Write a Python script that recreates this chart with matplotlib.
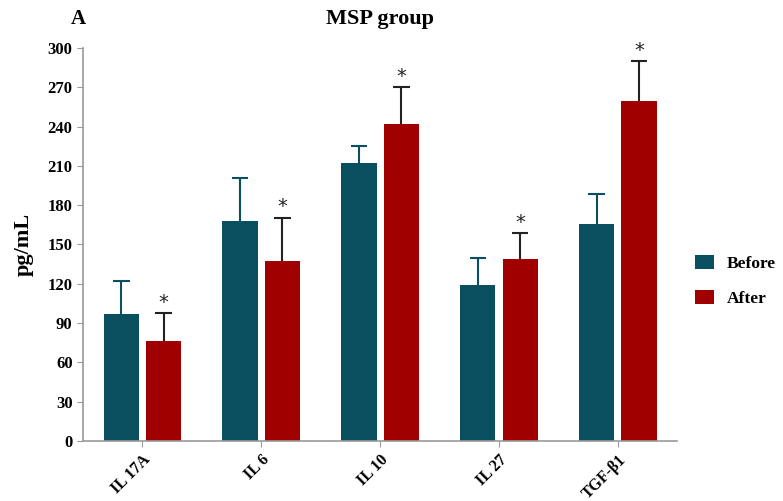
import numpy as np
import matplotlib
matplotlib.use("Agg")
import matplotlib.pyplot as plt

plt.rcParams['font.family'] = ['Liberation Serif', 'DejaVu Serif']

categories = ["IL 17A", "IL 6", "IL 10", "IL 27", "TGF-\u03b21"]
before = [96.6, 168, 212.6, 119.4, 165.6]
before_err = [25.4, 32.9, 12.9, 20.4, 22.8]
after = [76, 137.2, 242.2, 139.2, 259.4]
after_err = [21.5, 33.2, 28.2, 19.6, 30.5]
yticks = [0, 30, 60, 90, 120, 150, 180, 210, 240, 270, 300]

c_before = "#0a4f5f"
c_after = "#a00000"

fig = plt.figure(figsize=(7.83, 5.01), dpi=100)
ax = fig.add_axes([0.106, 0.12, 0.759, 0.784])

x = np.arange(len(categories))
w = 0.297
off = 0.178
cap = 0.07

ax.bar(x - off, before, w, color=c_before, label="Before", zorder=2)
ax.bar(x + off, after, w, color=c_after, label="After", zorder=2)

# upper-only error bars
for xs, vals, errs, col in [(x - off, before, before_err, c_before),
                            (x + off, after, after_err, "#222222")]:
    tops = np.array(vals) + np.array(errs)
    ax.vlines(xs, vals, tops, color=col, lw=1.5, zorder=1)
    ax.hlines(tops, xs - cap, xs + cap, color=col, lw=1.5, zorder=1)

# significance stars
for xi, v, e in zip(x + off, after, after_err):
    ax.text(xi, v + e + 1, "*", ha="center", va="bottom", fontsize=14,
            color="#222222", family="DejaVu Sans")

ax.set_xlim(-0.5, 4.5)
ax.set_ylim(0, 300)
ax.set_yticks(yticks)
ax.set_xticks(x)
ax.set_xticklabels(categories, rotation=45, ha="right", rotation_mode="anchor")

for lab in ax.get_xticklabels() + ax.get_yticklabels():
    lab.set_fontweight("bold")
    lab.set_fontsize(12)
for lab in ax.get_xticklabels():
    lab.set_fontsize(11.5)

for s in ["top", "right"]:
    ax.spines[s].set_visible(False)
for s in ["left", "bottom"]:
    ax.spines[s].set_color("#999999")
    ax.spines[s].set_linewidth(1.2)
ax.tick_params(colors="#999999", labelcolor="black", length=4)
ax.tick_params(axis="x", pad=4)

ax.set_ylabel("pg/mL", fontsize=16, fontweight="bold", labelpad=10)
ax.set_title("MSP group", fontsize=16, fontweight="bold", pad=17)
fig.text(0.1, 0.963, "A", fontsize=15, fontweight="bold", ha="center", va="center")

leg = ax.legend(loc="center left", bbox_to_anchor=(1.004, 0.407), frameon=False,
                prop={"weight": "bold", "size": 12.5}, handlelength=1.1,
                handleheight=0.85, labelspacing=1.05, handletextpad=0.7)

fig.savefig("out.png", dpi=100)
